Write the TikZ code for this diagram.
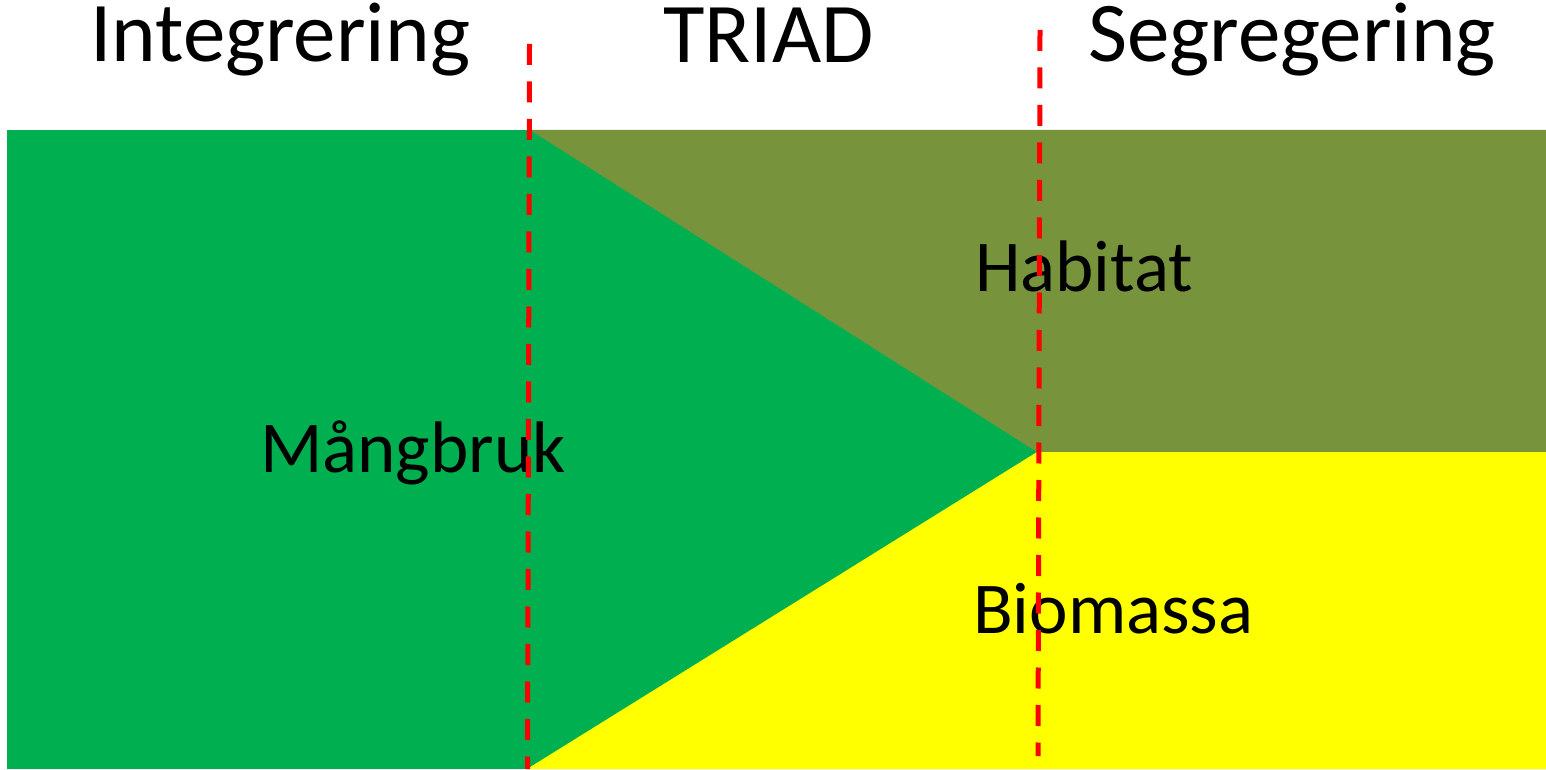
\documentclass[tikz,border=0pt]{standalone}
\usepackage{fontspec}
\setmainfont{Carlito}
\definecolor{mgreen}{HTML}{00B050}
\definecolor{molive}{HTML}{77933C}
\definecolor{myellow}{HTML}{FFFF00}
\definecolor{mred}{HTML}{FF0000}
\tikzset{
  head/.style={anchor=base west, inner sep=0pt, font=\fontsize{85}{96}\selectfont},
  lbl/.style={anchor=base west, inner sep=0pt, font=\fontsize{73}{84}\selectfont},
  divider/.style={draw=mred, line width=5pt, dash pattern=on 21pt off 16.5pt},
}
\begin{document}
\begin{tikzpicture}[x=1pt,y=1pt]
\useasboundingbox (0,0) rectangle (1546,769);
% corner points
\coordinate (gTL) at (7,639);
\coordinate (gBL) at (7,0);
\coordinate (oTL) at (530,639);
\coordinate (TR) at (1546,639);
\coordinate (MR) at (1546,317);
\coordinate (apex) at (1037,317);
\coordinate (BR) at (1546,0);
\coordinate (yBL) at (527,0);
\fill[mgreen] (gBL) rectangle (TR);
\fill[molive] (oTL) -- (TR) -- (MR) -- (apex) -- cycle;
\fill[myellow] (apex) -- (MR) -- (BR) -- (yBL) -- cycle;
% dividers
\coordinate (d1t) at (529.5,725);
\coordinate (d1b) at (527.5,0);
\coordinate (d2t) at (1040,739);
\coordinate (d2b) at (1038,13);
% labels
\node[head] (integ) at (90,707) {Integrering};
\node[head] (triad) at (663,706) {TRIAD};
\node[head] (segr) at (1088,707) {Segregering};
\node[lbl] (hab) at (975,477) {Habitat};
\node[lbl] (mang) at (260,297) {Mångbruk};
\node[lbl] (bio) at (973,136) {Biomassa};
\draw[divider] (d1t) -- (d1b);
\draw[divider] (d2t) -- (d2b);
\end{tikzpicture}
\end{document}
